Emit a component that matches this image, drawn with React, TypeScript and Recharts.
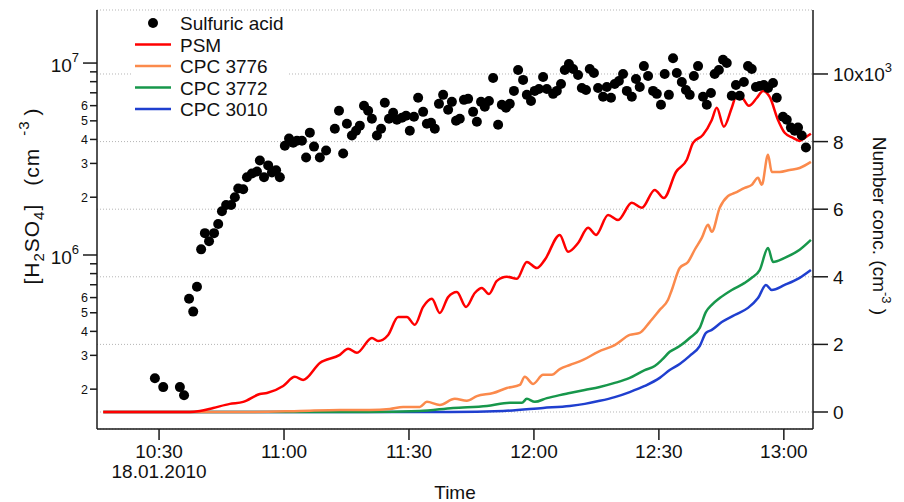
import { CartesianGrid, ComposedChart, Line, Scatter, XAxis, YAxis } from "recharts";

const FONT = "Arial, 'Liberation Sans', Helvetica, sans-serif";
const AXIS = "#1a1a1a";
const TEXT = "#111";

// time axis: minutes after midnight on 18.01.2010
const timeTicks = [630, 660, 690, 720, 750, 780];
const dateLabel = "18.01.2010";

// left axis: [H2SO4] in units of 1e6 cm-3 (log)
const acidTicks = [0.2, 0.3, 0.4, 0.5, 0.6, 0.7, 0.8, 0.9, 1, 2, 3, 4, 5, 6, 7, 8, 9, 10];
const acidLabelled = [0.2, 0.3, 0.4, 0.5, 0.6, 2, 3, 4, 5, 6];

// right axis: number concentration, cm-3
const numberTicks = [0, 2000, 4000, 6000, 8000, 10000];

// [time, H2SO4 (1e6 cm-3)]
const sulfuricAcid: [number, number][] = [
  [629.0, 0.228], [631.0, 0.205], [635.0, 0.205], [636.0, 0.186],
  [637.2, 0.592], [638.2, 0.507], [639.1, 0.683], [640.1, 1.07], [641.0, 1.3], [642.0, 1.18],
  [643.2, 1.3], [644.2, 1.45], [645.1, 1.69], [646.1, 1.82], [647.3, 1.82], [648.2, 2.0],
  [649.0, 2.22], [650.2, 2.2], [651.1, 2.54], [652.3, 2.66], [653.5, 2.72], [654.2, 3.11],
  [655.2, 2.54], [656.2, 2.93], [657.1, 2.69], [658.1, 2.76], [659.0, 2.54], [660.2, 3.71],
  [661.2, 4.04], [662.2, 3.85], [663.1, 3.94], [664.3, 3.94], [665.3, 3.22], [666.2, 4.34],
  [667.2, 3.67], [668.6, 3.22], [670.1, 3.5], [672.2, 4.55], [673.2, 5.64], [674.2, 3.38],
  [675.1, 4.83], [676.3, 4.19], [677.3, 4.44], [678.2, 4.72], [679.2, 5.99], [680.2, 5.64],
  [681.1, 5.13], [682.3, 4.19], [683.3, 4.55], [684.2, 6.21], [685.2, 5.13], [686.2, 5.51],
  [687.1, 5.07], [688.3, 5.19], [689.3, 5.31], [690.2, 4.44], [691.2, 5.25], [692.2, 6.59],
  [693.4, 5.57], [694.3, 4.83], [695.3, 4.89], [696.2, 4.55], [697.2, 6.13], [698.2, 6.83],
  [699.4, 5.71], [700.3, 6.28], [701.3, 5.01], [702.2, 5.13], [703.2, 6.43], [704.2, 6.51],
  [705.4, 5.57], [706.3, 4.95], [707.3, 6.28], [708.2, 5.92], [709.2, 6.35], [710.2, 8.36],
  [711.4, 4.77], [712.3, 6.06], [713.3, 5.85], [714.2, 6.13], [715.2, 7.16], [716.2, 9.2],
  [717.4, 8.17], [718.3, 6.83], [719.3, 6.35], [720.2, 7.16], [721.2, 7.33], [722.2, 8.46],
  [723.1, 7.33], [724.6, 6.91], [725.5, 7.16], [726.5, 7.78], [727.4, 9.2], [728.4, 9.88],
  [729.4, 9.31], [730.6, 8.67], [731.5, 7.42], [732.5, 7.24], [733.4, 9.31], [734.4, 8.87],
  [735.4, 7.42], [736.6, 6.67], [737.5, 7.51], [738.5, 6.59], [739.4, 7.78], [740.4, 8.07],
  [741.4, 8.77], [742.3, 7.16], [743.5, 6.67], [744.5, 8.26], [745.4, 7.51], [746.4, 9.64],
  [747.4, 8.57], [748.6, 7.16], [749.5, 6.91], [750.5, 6.06], [751.4, 8.77], [752.4, 6.83],
  [753.4, 10.6], [754.3, 8.87], [755.5, 7.97], [756.5, 7.24], [757.4, 6.83], [758.4, 8.57],
  [759.4, 9.64], [760.6, 6.67], [761.5, 6.06], [762.5, 6.99], [763.4, 8.77], [764.4, 9.2],
  [765.4, 10.4], [766.3, 10.0], [767.5, 6.75], [768.5, 7.69], [769.4, 6.75], [770.4, 7.97],
  [771.4, 9.64], [772.3, 9.31], [773.3, 7.51], [774.2, 7.6], [775.2, 7.69], [776.2, 7.42],
  [777.4, 7.88], [778.3, 6.59], [779.8, 5.25], [780.7, 5.07], [781.7, 4.61], [782.6, 4.44],
  [783.4, 4.61], [784.3, 4.19], [785.3, 3.63],
];

// [time, number conc. (cm-3)]
const psm: [number, number][] = [
  [616.6, 0], [637.4, 0], [639.8, 30], [643.0, 120], [647.0, 240], [650.2, 300], [654.2, 530],
  [655.9, 560], [659.8, 770], [662.6, 1040], [664.6, 950], [668.6, 1450], [673.4, 1690],
  [675.4, 1870], [677.5, 1750], [681.1, 2190], [682.6, 2100], [685.0, 2280], [687.4, 2810],
  [689.5, 2810], [691.4, 2580], [693.4, 3110], [695.5, 3350], [697.4, 2930], [699.4, 3400],
  [701.5, 3550], [703.7, 3110], [705.8, 3520], [707.5, 3670], [709.2, 3490], [711.1, 3880],
  [713.5, 4000], [715.9, 3940], [718.3, 4440], [720.7, 4260], [722.6, 4500], [726.2, 5240],
  [728.2, 4740], [730.6, 5000], [733.0, 5450], [734.9, 5240], [737.8, 5830], [740.2, 5680],
  [743.5, 6190], [745.9, 6040], [749.0, 6570], [751.2, 6330], [754.1, 7100], [756.7, 7460],
  [758.2, 7960], [760.6, 8200], [762.7, 8640], [763.9, 9000], [765.6, 8440], [767.5, 9000],
  [768.7, 9380], [769.9, 9320], [771.6, 9060], [773.5, 9290], [775.0, 9500], [776.6, 9320],
  [778.6, 8640], [780.2, 8260], [782.2, 8110], [783.8, 8020], [785.0, 8110], [786.5, 8230],
];

const cpc3776: [number, number][] = [
  [616.6, 0], [651.8, 0], [663.8, 30], [673.4, 60], [680.6, 60], [685.4, 90], [688.6, 150],
  [692.6, 150], [694.3, 300], [697.4, 210], [701.0, 390], [703.9, 330], [706.3, 470],
  [710.2, 560], [713.5, 710], [716.6, 800], [717.8, 1040], [719.8, 830], [722.2, 1100],
  [724.3, 1100], [726.2, 1270], [728.6, 1390], [731.8, 1540], [735.4, 1780], [739.4, 1980],
  [743.0, 2280], [745.4, 2340], [747.8, 2660], [750.2, 3020], [752.2, 3320], [753.1, 3610],
  [755.0, 4260], [757.0, 4440], [758.6, 4800], [760.3, 5150], [761.8, 5540], [762.7, 5330],
  [764.6, 6040], [766.6, 6390], [768.2, 6480], [770.6, 6630], [772.3, 6720], [773.8, 6930],
  [774.7, 6720], [776.2, 7610], [777.1, 7100], [779.0, 7100], [781.4, 7160], [783.8, 7220],
  [786.5, 7400],
];

const cpc3772: [number, number][] = [
  [616.6, 0], [680.0, 0], [692.6, 30], [700.6, 120], [708.7, 180], [714.2, 270], [717.1, 270],
  [718.3, 390], [720.2, 300], [723.1, 410], [726.2, 500], [728.6, 560], [732.2, 650],
  [735.8, 740], [739.4, 860], [743.0, 1010], [746.6, 1240], [749.0, 1360], [750.7, 1540],
  [752.6, 1780], [755.0, 1950], [757.4, 2190], [759.8, 2490], [761.3, 2960], [762.7, 3170],
  [764.6, 3370], [767.5, 3610], [770.6, 3820], [772.3, 3970], [774.2, 4200], [776.2, 4850],
  [777.4, 4440], [780.2, 4560], [783.8, 4800], [786.5, 5090],
];

const cpc3010: [number, number][] = [
  [616.6, 0], [700.0, 0], [712.6, 30], [722.2, 120], [728.6, 180], [732.2, 240], [735.8, 330],
  [739.4, 440], [743.0, 590], [746.6, 770], [750.2, 1010], [752.6, 1240], [755.0, 1420],
  [757.4, 1660], [759.8, 1950], [761.3, 2340], [762.7, 2430], [765.1, 2660], [768.2, 2870],
  [771.4, 3080], [773.8, 3370], [775.7, 3760], [777.1, 3610], [780.2, 3760], [783.8, 3970],
  [786.5, 4200],
];

const series = [
  { name: "CPC 3010", rows: cpc3010, color: "#1f3fcf" },
  { name: "CPC 3772", rows: cpc3772, color: "#17974b" },
  { name: "CPC 3776", rows: cpc3776, color: "#fb8a4c" },
  { name: "PSM", rows: psm, color: "#ff0000" },
];

const toPoints = (rows: [number, number][]) => rows.map(([t, v]) => ({ t, v }));
const acidPoints = sulfuricAcid.map(([t, c]) => ({ t, c }));

const fmtTime = (t: number) => `${Math.floor(t / 60)}:${String(t % 60).padStart(2, "0")}`;

function TimeTick({ x, y, payload }: any) {
  return (
    <g>
      <line x1={x} x2={x} y1={y} y2={y + 11} stroke={AXIS} strokeWidth={1.5} />
      <text x={x} y={y + 29} textAnchor="middle" fontSize={19} fontFamily={FONT} fill={TEXT}>
        {fmtTime(payload.value)}
      </text>
      {payload.value === timeTicks[0] && (
        <text x={x} y={y + 49} textAnchor="middle" fontSize={19} fontFamily={FONT} fill={TEXT}>
          {dateLabel}
        </text>
      )}
    </g>
  );
}

function AcidTick({ x, y, payload }: any) {
  const v = payload.value;
  const decade = v === 1 || v === 10;
  const len = decade ? 14 : 7;
  return (
    <g>
      <line x1={x - len} x2={x} y1={y} y2={y} stroke={AXIS} strokeWidth={1.5} />
      {decade ? (
        <text x={x - len - 4} y={y + 9} textAnchor="end" fontSize={19} fontFamily={FONT} fill={TEXT}>
          10
          <tspan fontSize={13} dy={-10}>
            {v === 1 ? 6 : 7}
          </tspan>
        </text>
      ) : acidLabelled.includes(v) ? (
        <text x={x - len - 2} y={y + 4.5} textAnchor="end" fontSize={12.5} fontFamily={FONT} fill={TEXT}>
          {v < 1 ? Math.round(v * 10) : v}
        </text>
      ) : null}
    </g>
  );
}

function NumberTick({ x, y, payload }: any) {
  const v = payload.value;
  return (
    <g>
      <line x1={x} x2={x + 15} y1={y} y2={y} stroke={AXIS} strokeWidth={1.5} />
      <text x={x + 20} y={y + 7} fontSize={19} fontFamily={FONT} fill={TEXT}>
        {v === 10000 ? (
          <>
            10x10
            <tspan fontSize={13} dy={-9}>
              3
            </tspan>
          </>
        ) : (
          v / 1000
        )}
      </text>
    </g>
  );
}

function LeftTitle() {
  return (
    <text
      transform="translate(31,188) rotate(-90)"
      textAnchor="middle"
      fontSize={21}
      letterSpacing={1}
      fontFamily={FONT}
      fill={TEXT}
    >
      [H
      <tspan fontSize={15} dy={5}>2</tspan>
      <tspan dy={-5}>SO</tspan>
      <tspan fontSize={15} dy={5}>4</tspan>
      <tspan dy={-5}>]</tspan>
      <tspan dx={18}>(cm</tspan>
      <tspan fontSize={15} dy={-10} dx={12}>-3</tspan>
      <tspan dy={10} dx={5}>)</tspan>
    </text>
  );
}

function RightTitle() {
  return (
    <text transform="translate(865,218) rotate(90)" textAnchor="middle" fontSize={19} fontFamily={FONT} fill={TEXT}>
      Number conc. (cm
      <tspan fontSize={13} dy={-9}>-3</tspan>
      <tspan dy={9}> )</tspan>
    </text>
  );
}

function TimeTitle({ viewBox }: any) {
  return (
    <text x={viewBox.x + viewBox.width / 2} y={viewBox.y + 70} textAnchor="middle" fontSize={19} fontFamily={FONT} fill={TEXT}>
      Time
    </text>
  );
}

function LegendBox() {
  const rows = [...series].reverse();
  return (
    <svg width={155} height={108} style={{ position: "absolute", left: 125, top: 4, background: "#fff" }}>
      <circle cx={20} cy={11} r={5} fill="#000" />
      <text x={47} y={18} fontSize={19} fontFamily={FONT} fill={TEXT}>
        Sulfuric acid
      </text>
      {rows.map((s, i) => {
        const cy = 32.5 + i * 21.5;
        return (
          <g key={s.name}>
            <line x1={2} x2={38} y1={cy} y2={cy} stroke={s.color} strokeWidth={2.5} />
            <text x={47} y={cy + 7} fontSize={19} fontFamily={FONT} fill={TEXT}>
              {s.name}
            </text>
          </g>
        );
      })}
    </svg>
  );
}

export default function App() {
  return (
    <div style={{ position: "relative", width: 896, height: 494, fontFamily: FONT }}>
      <ComposedChart width={896} height={494} margin={{ top: 2, right: 0, bottom: 0, left: 0 }}>
        <CartesianGrid yAxisId="right" vertical={false} stroke="#b5b5b5" strokeDasharray="1 2" />
        <XAxis
          type="number"
          dataKey="t"
          domain={[615.1, 787]}
          allowDataOverflow
          ticks={timeTicks}
          interval={0}
          height={73}
          tickSize={0}
          tickMargin={0}
          tick={(p: any) => <TimeTick {...p} />}
          axisLine={{ stroke: AXIS, strokeWidth: 1.5 }}
          label={<TimeTitle />}
        />
        <YAxis
          yAxisId="left"
          scale="log"
          domain={[0.124, 18.9]}
          allowDataOverflow
          ticks={acidTicks}
          interval={0}
          width={89}
          tickSize={0}
          tickMargin={0}
          tick={(p: any) => <AcidTick {...p} />}
          axisLine={{ stroke: AXIS, strokeWidth: 1.5 }}
          label={<LeftTitle />}
        />
        <YAxis
          yAxisId="right"
          orientation="right"
          domain={[-503, 11893]}
          allowDataOverflow
          ticks={numberTicks}
          interval={0}
          width={91}
          tickSize={0}
          tickMargin={0}
          tick={(p: any) => <NumberTick {...p} />}
          axisLine={{ stroke: AXIS, strokeWidth: 1.5 }}
          label={<RightTitle />}
        />
        {series.map((s) => (
          <Line
            key={s.name}
            yAxisId="right"
            data={toPoints(s.rows)}
            dataKey="v"
            name={s.name}
            type="monotone"
            stroke={s.color}
            strokeWidth={2.5}
            dot={false}
            activeDot={false}
            isAnimationActive={false}
          />
        ))}
        <Scatter
          yAxisId="left"
          data={acidPoints}
          dataKey="c"
          name="Sulfuric acid"
          fill="#000"
          shape={(p: any) => <circle cx={p.cx} cy={p.cy} r={5} fill="#000" />}
          isAnimationActive={false}
        />
      </ComposedChart>
      <LegendBox />
    </div>
  );
}
